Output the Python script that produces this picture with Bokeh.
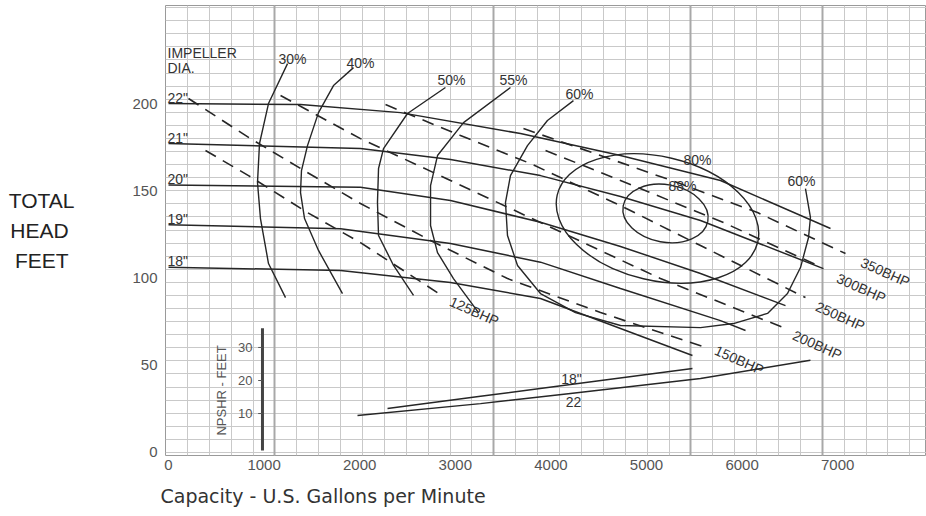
import numpy as np
from bokeh.plotting import figure
from bokeh.models import Range1d, FixedTicker, Grid, Title
from bokeh.core.properties import value
from bokeh.embed import file_html
from bokeh.resources import INLINE

# ---------------- data ----------------
x_ticks = [0, 1000, 2000, 3000, 4000, 5000, 6000, 7000]
y_ticks = [0, 50, 100, 150, 200]

# head-capacity curves (GPM, feet) for each impeller diameter
diam_labels = ['22"', '21"', '20"', '19"', '18"']
h22_q = [0, 1381, 2427, 3682, 4728, 5774, 6925]
h22_h = [200.0, 199.4, 194.8, 182.8, 170.2, 155.9, 128.4]
h21_q = [0, 2008, 2950, 3891, 4728, 5565, 6851]
h21_h = [177.1, 174.2, 167.9, 158.7, 146.7, 133.0, 105.4]
h20_q = [0, 2008, 2950, 3891, 4728, 5565, 6454]
h20_h = [153.3, 152.0, 144.4, 132.0, 118.1, 102.6, 84.2]
h19_q = [0, 1800, 2950, 3891, 4728, 5774, 6036]
h19_h = [130.5, 128.2, 119.8, 109.1, 94.0, 75.6, 69.9]
h18_q = [0, 1800, 2950, 3891, 4728, 5481]
h18_h = [106.2, 104.3, 97.4, 88.3, 71.1, 55.6]

# iso-efficiency curves
eff_labels = ["30%", "40%", "50%", "55%", "60%"]
eff30_q = [1245, 1046, 952, 931, 962, 1046, 1224]
eff30_h = [222.9, 200.0, 177.1, 154.7, 134.1, 108.3, 88.8]
eff40_q = [1935, 1726, 1569, 1454, 1391, 1381, 1423, 1569, 1820]
eff40_h = [220.6, 210.3, 194.8, 175.9, 161.6, 149.0, 134.1, 115.8, 91.1]
eff50_q = [2897, 2500, 2249, 2197, 2186, 2197, 2354, 2563]
eff50_h = [209.2, 194.3, 174.2, 162.8, 143.3, 124.4, 107.2, 90.0]
eff55_q = [3577, 3086, 2814, 2741, 2741, 2814, 2981, 3243]
eff55_h = [209.2, 189.1, 170.2, 153.0, 130.1, 114.6, 99.7, 80.2]
eff60_q = [4236, 3964, 3755, 3577, 3525, 3546, 3651, 3891, 4257, 4728,
           5565, 5910, 6266, 6475, 6611, 6695, 6715, 6663]
eff60_h = [201.7, 190.3, 175.9, 158.7, 143.3, 124.4, 107.2, 91.1, 80.2, 72.8,
           71.6, 73.9, 79.7, 91.1, 106.0, 123.2, 134.7, 151.3]

# closed efficiency islands: centre (GPM, ft), size (GPM, ft), tilt
oval_labels = ["80%", "88%"]
oval_q = [5115, 5199]
oval_h = [134.1, 137.0]
oval_w = [2155, 900]
oval_hh = [71.0, 33.0]
oval_tilt = [-0.23, -0.18]
oval_label_q = [5533, 5377]
oval_label_h = [167.9, 153.0]

# brake horsepower lines
bhp_labels = ["125BHP", "150BHP", "200BHP", "250BHP", "300BHP", "350BHP"]
bhp125_q = [387, 837, 1454, 2008, 2845]
bhp125_h = [173.1, 158.7, 137.5, 120.3, 90.5]
bhp150_q = [209, 858, 1381, 2008, 2741, 3546, 4519, 5617]
bhp150_h = [202.9, 179.9, 162.8, 142.7, 121.5, 99.7, 80.2, 60.2]
bhp200_q = [1172, 2008, 2950, 3891, 5146, 6454]
bhp200_h = [204.6, 179.9, 155.9, 131.8, 99.7, 71.1]
bhp250_q = [2270, 3054, 3787, 4728, 5565, 6663]
bhp250_h = [199.4, 181.7, 165.6, 141.5, 118.6, 88.8]
bhp300_q = [3944, 4728, 5805, 6789]
bhp300_h = [173.1, 155.9, 131.8, 107.2]
bhp350_q = [3713, 4519, 5324, 6161, 7082]
bhp350_h = [185.7, 170.2, 154.7, 137.5, 114.0]

# NPSHR curves (GPM, NPSHR feet) on their own small scale
npsh_ticks = [10, 20, 30]
npsh_axis_q = 983
npsh_labels = ['18"', '22']
npsh18_q = [2291, 3264, 4205, 5481]
npsh18_h = [11.5, 15.2, 18.8, 23.6]
npsh22_q = [1977, 3264, 4205, 5565, 6715]
npsh22_h = [9.4, 13.0, 16.1, 20.6, 26.1]
npsh_label_q = [4215, 4236]
npsh_label_h = [20.6, 13.6]

x_title = "Capacity - U.S. Gallons per Minute"

# ---------------- figure ----------------
X0, X1 = -31.4, 7929
Y0, Y1 = -1.72, 256.2
p = figure(width=926, height=516, output_backend="svg", toolbar_location=None,
           title=None, x_range=Range1d(X0, X1), y_range=Range1d(Y0, Y1),
           min_border_left=165, min_border_right=0, min_border_top=5,
           min_border_bottom=61)
p.extra_y_ranges = {"npsh": Range1d(-2.70, 133.5)}
p.background_fill_color = "white"
p.border_fill_color = "white"
p.outline_line_color = "#9a9a9a"

LINE = "#262626"
TXT = "#333333"
FONT = value("Liberation Sans")

# grid
step_x = 229.0
grid_x = list(X0 + step_x * np.arange(1, 35))
grid_y = list(np.arange(0, 256, 7.5))
p.xgrid.ticker = FixedTicker(ticks=grid_x)
p.ygrid.ticker = FixedTicker(ticks=grid_y)
for g in (p.xgrid[0], p.ygrid[0]):
    g.grid_line_color = "#c9c9c9"
    g.grid_line_width = 1
dark_x = [X0 + step_x * k for k in (5, 15, 24, 30)]
p.add_layout(Grid(dimension=0, ticker=FixedTicker(ticks=dark_x),
                  grid_line_color="#a8a8a8", grid_line_width=2))

# axes
p.xaxis.ticker = FixedTicker(ticks=x_ticks)
p.yaxis.ticker = FixedTicker(ticks=y_ticks)
for ax in (p.xaxis[0], p.yaxis[0]):
    ax.axis_line_color = None
    ax.major_tick_line_color = None
    ax.minor_tick_line_color = None
    ax.major_tick_out = 0
    ax.major_tick_in = 0
    ax.major_label_text_font = "Liberation Sans"
    ax.major_label_text_font_size = "15px"
    ax.major_label_text_color = "#555555"
p.xaxis.major_label_standoff = 4
p.yaxis.major_label_standoff = 8

# y-axis title: three centred lines (no-break spaces balance the right anchor)
p.yaxis.axis_label = "TOTAL\nHEAD\u00a0\nFEET\u00a0"
p.yaxis.axis_label_orientation = "horizontal"
p.yaxis.axis_label_text_font = "Liberation Sans"
p.yaxis.axis_label_text_font_size = "21px"
p.yaxis.axis_label_text_font_style = "normal"
p.yaxis.axis_label_text_color = "#222222"
p.yaxis.axis_label_text_line_height = 1.3
p.yaxis.axis_label_standoff = 55

# x-axis title, left-aligned just under the tick labels
p.add_layout(Title(text=x_title, align="left", offset=-5,
                   text_font="DejaVu Sans", text_font_size="19px",
                   text_font_style="normal", text_color="#333333",
                   standoff=20), "below")

# head curves
heads = [(h22_q, h22_h), (h21_q, h21_h), (h20_q, h20_h), (h19_q, h19_h), (h18_q, h18_h)]
for q, h in heads:
    p.line(q, h, line_color=LINE, line_width=1.5)
p.text(x=[q[0] for q, h in heads], y=[h[0] for q, h in heads], text=diam_labels,
       x_offset=-1, y_offset=2, text_font=FONT, text_font_size="14px",
       text_color=TXT, text_align="left", text_baseline="bottom")
p.text(x=[h22_q[0], h22_q[0]], y=[h22_h[0], h22_h[0]], text=["IMPELLER", "DIA."],
       x_offset=-1, y_offset=[-51, -36], text_font=FONT, text_font_size="14px",
       text_color=TXT, text_align="left", text_baseline="middle")

# efficiency curves
effs = [(eff30_q, eff30_h), (eff40_q, eff40_h), (eff50_q, eff50_h),
        (eff55_q, eff55_h), (eff60_q, eff60_h)]
for q, h in effs:
    p.line(q, h, line_color=LINE, line_width=1.4)
p.text(x=[q[0] for q, h in effs] + [eff60_q[-1]],
       y=[h[0] for q, h in effs] + [eff60_h[-1]],
       text=eff_labels + ["60%"], x_offset=[5, 7, 6, 3, 6, -4],
       y_offset=[3, 3, 0, 0, 1, 0],
       text_font=FONT, text_font_size="14px", text_color=TXT,
       text_align="center", text_baseline="bottom")
p.ellipse(x=oval_q, y=oval_h, width=oval_w, height=oval_hh, angle=oval_tilt,
          fill_color=None, line_color=LINE, line_width=1.4)
p.text(x=oval_label_q, y=oval_label_h, text=oval_labels, text_font=FONT,
       text_font_size="14px", text_color=TXT, text_align="center",
       text_baseline="middle")

# BHP lines
bhps = [(bhp125_q, bhp125_h), (bhp150_q, bhp150_h), (bhp200_q, bhp200_h),
        (bhp250_q, bhp250_h), (bhp300_q, bhp300_h), (bhp350_q, bhp350_h)]
for q, h in bhps:
    p.line(q, h, line_color=LINE, line_width=1.6, line_dash="12 8")
p.text(x=[q[-1] for q, h in bhps], y=[h[-1] for q, h in bhps], text=bhp_labels,
       x_offset=[10, 10, 8, 11, 20, 16], y_offset=[6, 2, 6, 8, 12, 8],
       angle=-0.42, text_font=FONT,
       text_font_size="14px", text_color=TXT, text_align="left",
       text_baseline="middle")

# NPSHR scale and curves
lo, hi = -1.2, 35.8
p.segment(x0=[npsh_axis_q], y0=[lo], x1=[npsh_axis_q], y1=[hi],
          line_color="#444444", line_width=3, y_range_name="npsh")
p.segment(x0=[npsh_axis_q - 45] * 3, y0=npsh_ticks, x1=[npsh_axis_q] * 3,
          y1=npsh_ticks, line_color="#555555", line_width=1, y_range_name="npsh")
p.text(x=[npsh_axis_q] * 3, y=npsh_ticks, text=[str(t) for t in npsh_ticks],
       x_offset=-10, text_font=FONT, text_font_size="13px", text_color="#555555",
       text_align="right", text_baseline="middle", y_range_name="npsh")
p.text(x=[npsh_axis_q], y=[17.0], text=["NPSHR - FEET"], x_offset=-41,
       angle=np.pi / 2, text_font=FONT, text_font_size="13px",
       text_color="#555555", text_align="center", text_baseline="middle",
       y_range_name="npsh")
p.line(npsh18_q, npsh18_h, line_color=LINE, line_width=1.5, y_range_name="npsh")
p.line(npsh22_q, npsh22_h, line_color=LINE, line_width=1.5, y_range_name="npsh")
p.text(x=npsh_label_q, y=npsh_label_h, text=npsh_labels, text_font=FONT,
       text_font_size="14px", text_color=TXT, text_align="center",
       text_baseline="middle", y_range_name="npsh")

open("out.html", "w").write(file_html(p, INLINE))
